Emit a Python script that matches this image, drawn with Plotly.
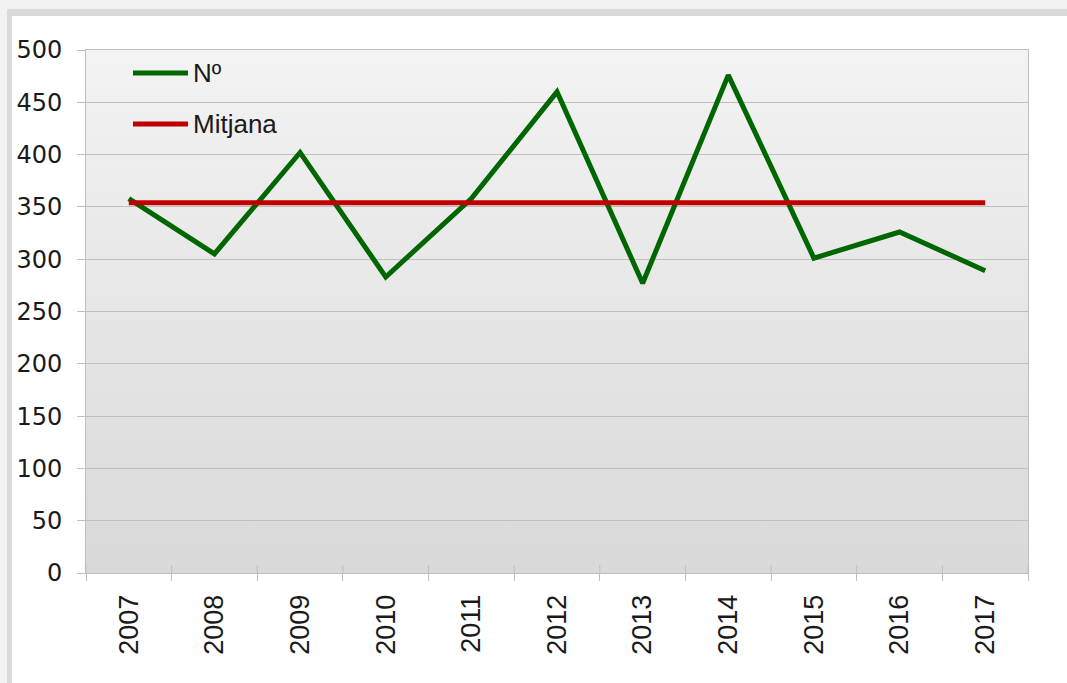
import base64
import plotly.graph_objects as go

years = ["2007", "2008", "2009", "2010", "2011", "2012", "2013", "2014", "2015", "2016", "2017"]
num_values = [358, 305, 402, 283, 358, 460, 277, 476, 301, 326, 289]
mitjana_value = 354
mitjana_values = [mitjana_value] * len(years)
series_names = ["Nº", "Mitjana"]
series_colors = ["#006600", "#c00000"]
y_ticks = list(range(0, 501, 50))

W, H = 1067, 683
ML, MR, MT, MB = 86, 39, 50, 110
PW, PH = W - ML - MR, H - MT - MB


def px_to_paper(xp, yp):
    return (xp - ML) / PW, 1 - (yp - MT) / PH


fig = go.Figure()
fig.add_trace(go.Scatter(x=years, y=num_values, mode="lines", name=series_names[0],
                         line=dict(color=series_colors[0], width=5), showlegend=False))
fig.add_trace(go.Scatter(x=years, y=mitjana_values, mode="lines", name=series_names[1],
                         line=dict(color=series_colors[1], width=5), showlegend=False))

# gradient plot background
svg = ('<svg xmlns="http://www.w3.org/2000/svg" width="100" height="100" preserveAspectRatio="none">'
       '<defs><linearGradient id="g" x1="0" y1="0" x2="0" y2="1">'
       '<stop offset="0" stop-color="#f3f3f3"/><stop offset="1" stop-color="#d9d9d9"/>'
       '</linearGradient></defs><rect width="100" height="100" fill="url(#g)"/></svg>')
uri = "data:image/svg+xml;base64," + base64.b64encode(svg.encode()).decode()

shapes = []
# outer frame / shadow
x0, y1 = px_to_paper(0, 0)
x1, y0 = px_to_paper(W, H)
shapes.append(dict(type="rect", xref="paper", yref="paper", x0=x0, x1=x1, y0=y0, y1=y1,
                   fillcolor="#f2f2f2", line_width=0, layer="below"))
a, b = px_to_paper(7, 9)
shapes.append(dict(type="rect", xref="paper", yref="paper", x0=a, x1=x1, y0=y0, y1=b,
                   fillcolor="#dadada", line_width=0, layer="below"))
a, b = px_to_paper(12, 16)
shapes.append(dict(type="rect", xref="paper", yref="paper", x0=a, x1=x1, y0=y0, y1=b,
                   fillcolor="#ffffff", line_width=0, layer="below"))

# inner part of the category boundary ticks (they cross the axis)
_, tick_top = px_to_paper(0, 565)
for i in range(len(years) + 1):
    shapes.append(dict(type="line", xref="x", yref="paper", x0=i - 0.5, x1=i - 0.5,
                       y0=0, y1=tick_top, line=dict(color="#bfbfbf", width=1)))

# legend (custom, to match long line samples)
annotations = []
legend_rows = [73, 124]
for name, color, ypx in zip(series_names, series_colors, legend_rows):
    lx0, ly = px_to_paper(133, ypx)
    lx1, _ = px_to_paper(188, ypx)
    shapes.append(dict(type="line", xref="paper", yref="paper", x0=lx0, x1=lx1, y0=ly, y1=ly,
                       line=dict(color=color, width=5)))
    tx, _ = px_to_paper(191, ypx)
    annotations.append(dict(xref="paper", yref="paper", x=tx, y=ly, text=name, showarrow=False,
                            xanchor="left", yanchor="middle",
                            font=dict(family="Liberation Sans", size=26, color="#1a1a1a")))

fig.update_layout(
    width=W, height=H,
    margin=dict(l=ML, r=MR, t=MT, b=MB),
    paper_bgcolor="#ffffff",
    plot_bgcolor="rgba(0,0,0,0)",
    showlegend=False,
    shapes=shapes,
    annotations=annotations,
    images=[dict(source=uri, xref="x domain", yref="y domain", x=0, y=1, sizex=1, sizey=1,
                 xanchor="left", yanchor="top", sizing="stretch", layer="below")],
    font=dict(family="Liberation Sans", size=25, color="#1a1a1a"),
)
fig.update_xaxes(type="category", categoryorder="array", categoryarray=years,
                 range=[-0.5, len(years) - 0.5],
                 tickangle=-90, ticks="outside", ticklen=7, tickcolor="#bfbfbf",
                 tickson="boundaries", showline=True, linecolor="#bfbfbf", linewidth=1,
                 mirror=True, showgrid=False, ticklabelstandoff=10,
                 tickfont=dict(family="Liberation Sans", size=27, color="#1a1a1a"))
fig.update_yaxes(range=[0, 500], tickvals=y_ticks, ticks="outside", ticklen=8,
                 tickcolor="#bfbfbf", showline=True, linecolor="#bfbfbf", linewidth=1,
                 mirror=True, showgrid=True, gridcolor="#bfbfbf", gridwidth=1,
                 zeroline=False, ticklabelstandoff=10,
                 tickfont=dict(family="DejaVu Sans", size=24, color="#1a1a1a"))

fig.write_html("out.html", config={"displayModeBar": False},
               post_script="document.body.style.margin='0';document.body.style.overflow='hidden';")
